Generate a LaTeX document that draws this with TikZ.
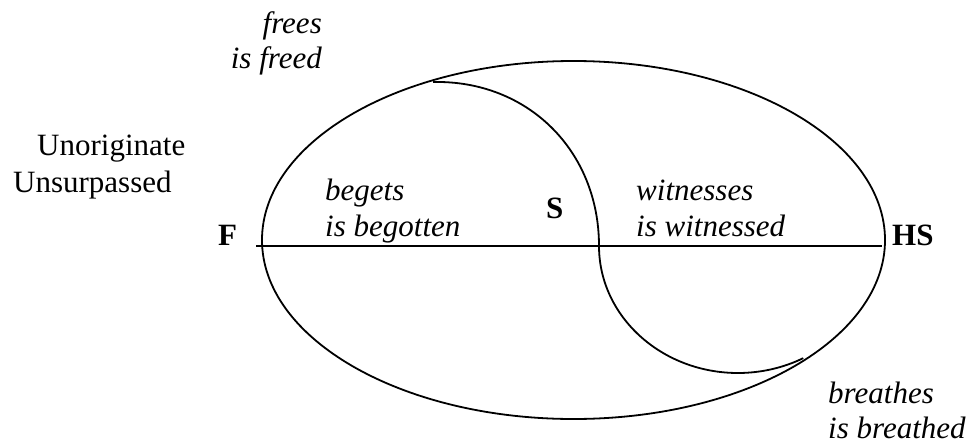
\documentclass[tikz,border=0pt]{standalone}
\usepackage{fontspec}
\setmainfont{Liberation Serif}
\begin{document}
\begin{tikzpicture}[x=1pt,y=-1pt,
  lbl/.style={inner sep=0pt,anchor=base west,font=\fontsize{31}{37}\selectfont},
  lblr/.style={lbl,anchor=base east},
  verb/.style={lbl,font=\fontsize{31}{37}\selectfont\itshape},
  verbr/.style={verb,anchor=base east},
  person/.style={lbl,font=\fontsize{31}{37}\selectfont\bfseries},
  curve/.style={line width=1.8pt}]
\useasboundingbox (0,0) rectangle (976,447);
% outer ellipse
\draw[curve] (573.5,240) ellipse [x radius=311.5, y radius=179];
% line endpoints
\coordinate (Fend) at (256,246);
\coordinate (HSend) at (882,246);
\draw[curve] (Fend) -- (HSend);
% S-curve
\coordinate (top) at (433,82);
\coordinate (mid) at (599,246);
\draw[curve] (top) .. controls (528,80) and (599,151) .. (mid)
  arc [start angle=180, end angle=62, x radius=139, y radius=127];
% labels
\node[verbr] (frees) at (322,33) {frees};
\node[verbr] (isfreed) at (322,68) {is freed};
\node[lbl] (unor) at (37,155) {Unoriginate};
\node[lbl] (unsur) at (13,192) {Unsurpassed};
\node[person] (F) at (218,245) {F};
\node[verb] (begets) at (325,200) {begets};
\node[verb] (begotten) at (325,236) {is begotten};
\node[person] (S) at (546,218) {S};
\node[verb] (witnesses) at (636,200) {witnesses};
\node[verb] (witnessed) at (636,236) {is witnessed};
\node[person] (HS) at (892,245) {HS};
\node[verb] (breathes) at (828,403) {breathes};
\node[verb] (breathed) at (828,438) {is breathed};
\end{tikzpicture}
\end{document}
